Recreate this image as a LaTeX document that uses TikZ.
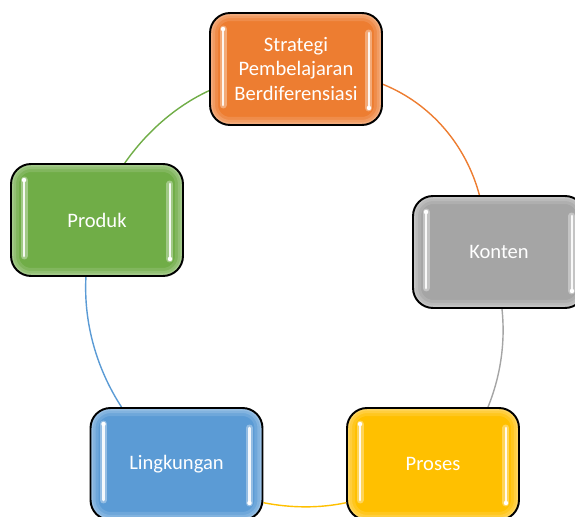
\documentclass[tikz,border=0pt]{standalone}
\usepackage{fontspec}
\setmainfont{Carlito}
\usetikzlibrary{backgrounds, calc}
\definecolor{oranye}{HTML}{ED7D31}
\definecolor{abu}{HTML}{A5A5A5}
\definecolor{kuning}{HTML}{FFC000}
\definecolor{biru}{HTML}{5B9BD5}
\definecolor{hijau}{HTML}{70AD47}
\tikzset{
  kotak/.style={draw=black, line width=1.1pt, fill=#1, rounded corners=.4cm,
    minimum width=3.44cm, minimum height=2.24cm, align=center, text=white,
    font=\fontsize{11.7}{13.9}\selectfont,
    path picture={
      \draw[white, opacity=.12, line width=.32cm]
        (path picture bounding box.south west) rectangle (path picture bounding box.north east);
      \draw[white, opacity=.14, line width=.2cm]
        (path picture bounding box.south west) rectangle (path picture bounding box.north east);
      \draw[white, opacity=.17, line width=.1cm]
        (path picture bounding box.south west) rectangle (path picture bounding box.north east);
      \draw[white, opacity=.35, line width=.14cm, line cap=round]
        ($(path picture bounding box.north west)+(13,-16)$) -- ($(path picture bounding box.south west)+(13,20)$)
        ($(path picture bounding box.north east)+(-13,-20)$) -- ($(path picture bounding box.south east)+(-13,17)$);
      \draw[white, opacity=.9, line width=.055cm, line cap=round]
        ($(path picture bounding box.north west)+(13,-16)$) -- ($(path picture bounding box.south west)+(13,20)$)
        ($(path picture bounding box.north east)+(-13,-20)$) -- ($(path picture bounding box.south east)+(-13,17)$);
      \fill[white] ($(path picture bounding box.north west)+(13,-16)$) circle (.045cm)
        ($(path picture bounding box.south east)+(-13,17)$) circle (.045cm);
    }},
  busur/.style={line width=.8pt, draw=#1}
}
\begin{document}
\begin{tikzpicture}[x=.02cm, y=.02cm]
  \useasboundingbox (0,0) rectangle (575,517);
  \node[kotak=oranye] (strategi) at (296,448) {Strategi\\Pembelajaran\\Berdiferensiasi};
  \node[kotak=abu] (konten) at (499,265) {Konten};
  \node[kotak=kuning] (proses) at (433,53) {Proses};
  \node[kotak=biru] (lingkungan) at (176.5,53) {Lingkungan};
  \node[kotak=hijau] (produk) at (97,297) {Produk};
  \begin{scope}[on background layer]
    \draw[busur=hijau] (produk.64) to[out=55, in=205, looseness=.86] (strategi.194);
    \draw[busur=oranye] (strategi.-10) to[out=-22, in=105, looseness=.9] (konten.109);
    \draw[busur=abu] (konten.-87) to[out=-84, in=68, looseness=.87] (proses.46);
    \draw[busur=kuning] (proses.204) to[out=192, in=-11, looseness=.86] (lingkungan.-24);
    \draw[busur=biru] (lingkungan.134) to[out=123, in=267, looseness=.87] (produk.-101);
  \end{scope}
\end{tikzpicture}
\end{document}
